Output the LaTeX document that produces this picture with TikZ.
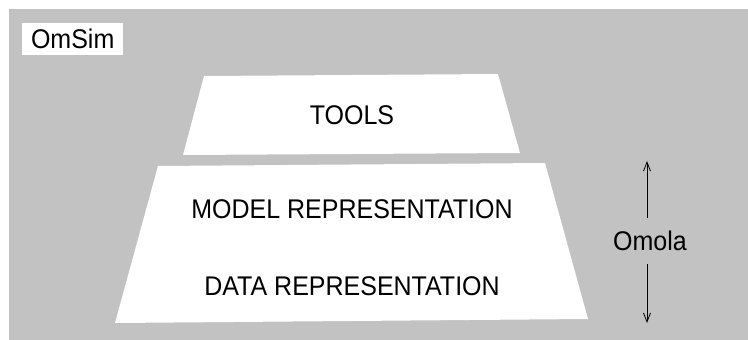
\documentclass[tikz,border=0pt]{standalone}
\usepackage{fontspec}
\setmainfont{Liberation Sans}
\usetikzlibrary{arrows.meta}
\begin{document}
\begin{tikzpicture}[x=1pt,y=-1pt,
  panel/.style={fill=white,draw=none},
  lbl/.style={font=\fontsize{25}{28}\selectfont,inner sep=0pt,yscale=1.08},
  omarrow/.style={line width=0.9pt,-{Straight Barb[length=9pt,width=7pt,line width=0.8pt]}}]
\useasboundingbox (0,0) rectangle (748,340);
\fill[black!24] (9,9) rectangle (748,340);
% OmSim label box
\node[panel,minimum width=101pt,minimum height=32pt,inner sep=0pt,anchor=north west] (omsim) at (22,23) {};
\node[lbl] (omsimtxt) at (omsim.center) {OmSim};
% TOOLS trapezoid
\fill[white] (204,76) -- (498,74) -- (520,153) -- (183,155) -- cycle;
\node[lbl] (tools) at (352,115) {TOOLS};
% lower trapezoid
\fill[white] (158,166) -- (545,163) -- (588,319) -- (115,323) -- cycle;
\node[lbl] (model) at (352,209) {MODEL REPRESENTATION};
\node[lbl] (data) at (352,286) {DATA REPRESENTATION};
% Omola
\node[lbl] (omola) at (650,241) {Omola};
\coordinate (up) at (647,161);
\coordinate (down) at (647,323);
\draw[omarrow] (647,218) -- (up);
\draw[omarrow] (647,264) -- (down);
\end{tikzpicture}
\end{document}
